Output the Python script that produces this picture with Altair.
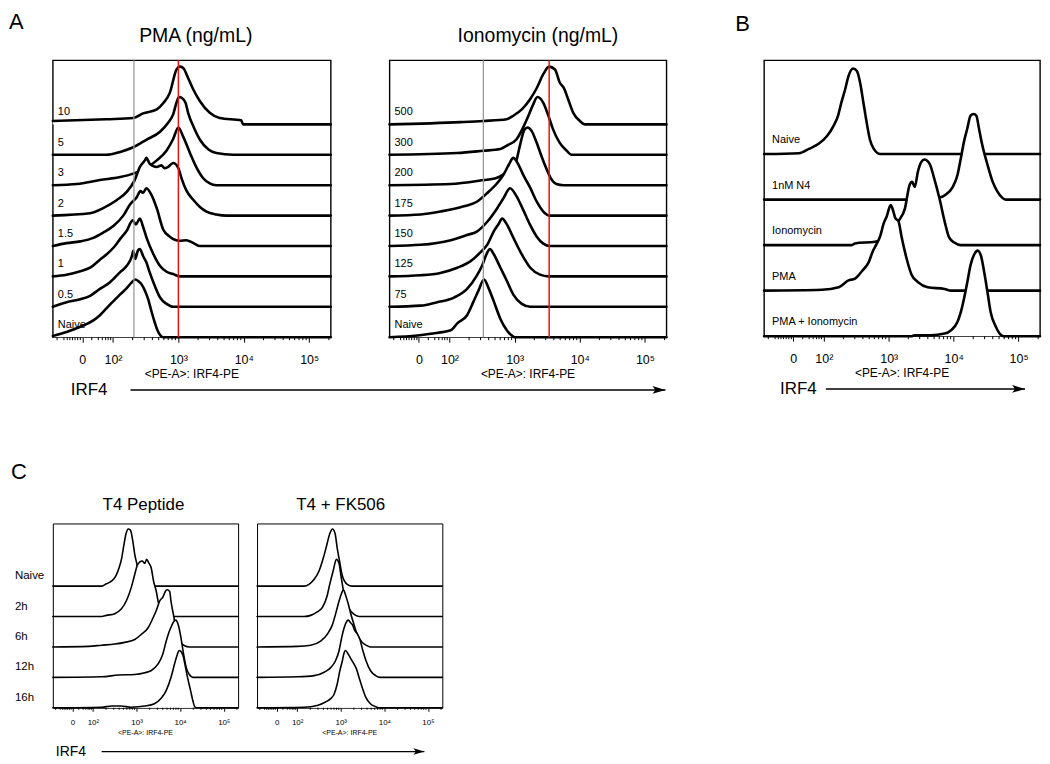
import json
import altair as alt
import pandas as pd

FONT = "Liberation Sans"

# ---- axis (display units: 10^k -> k, zero -> 1.53) ----
X_MIN, X_MAX = 1.08, 5.33
MAJOR_T = [1.53, 2, 3, 4, 5]
MAJOR_LABELS = ["0", "10²", "10³", "10⁴", "10⁵"]
MINOR_T = [1.145, 1.25, 1.30, 1.34, 1.38, 1.42, 1.46, 1.50,
           1.675, 1.775, 1.836, 1.888, 1.927, 1.965,
           2.301, 2.477, 2.602, 2.699, 2.778, 2.845, 2.903, 2.954,
           3.301, 3.477, 3.602, 3.699, 3.778, 3.845, 3.903, 3.954,
           4.301, 4.477, 4.602, 4.699, 4.778, 4.845, 4.903, 4.954,
           5.301]

# ---- row labels (bottom -> top) ----
PMA_ROWS = ["Naive", "0.5", "1", "1.5", "2", "3", "5", "10"]
IONO_ROWS = ["Naive", "75", "125", "150", "175", "200", "300", "500"]
B_ROWS = ["PMA + Ionomycin", "PMA", "Ionomycin", "1nM N4", "Naive"]
C_ROWS = ["16h", "12h", "6h", "2h", "Naive"]

# ---- gate lines ----
PMA_GRAY, PMA_RED = 2.32, 3.0
IONO_GRAY, IONO_RED = 2.52, 3.53

# ---- histograms: (position, % of max) ----
pma_naive = [(1.08, 2), (1.29, 9), (1.50, 18), (1.70, 29), (1.80, 38), (1.95, 56), (2.11, 74), (2.21, 85), (2.28, 94), (2.34, 100), (2.39, 97), (2.44, 91), (2.49, 80), (2.54, 65), (2.59, 44), (2.64, 25), (2.68, 12), (2.77, 0), (5.33, 0)]
pma_05 = [(1.08, 0), (1.29, 8), (1.50, 13), (1.65, 19), (1.80, 31), (1.95, 42), (2.11, 60), (2.21, 71), (2.29, 88), (2.31, 97), (2.34, 83), (2.38, 97), (2.41, 100), (2.46, 88), (2.51, 77), (2.56, 60), (2.64, 36), (2.72, 16), (2.82, 5), (2.92, 0), (5.33, 0)]
pma_1 = [(1.08, 0), (1.29, 3), (1.50, 9), (1.65, 15), (1.80, 29), (1.90, 38), (2.01, 50), (2.11, 65), (2.21, 79), (2.30, 97), (2.35, 90), (2.41, 100), (2.46, 86), (2.51, 68), (2.62, 38), (2.72, 18), (2.82, 8), (2.92, 4), (3.02, 0), (5.33, 0)]
pma_15 = [(1.08, 0), (1.29, 5), (1.50, 8), (1.70, 14), (1.85, 23), (2.01, 35), (2.16, 53), (2.26, 72), (2.36, 84), (2.42, 95), (2.46, 92), (2.51, 100), (2.59, 88), (2.67, 65), (2.77, 28), (2.87, 16), (3.02, 9), (3.12, 10), (3.23, 5), (3.33, 0), (5.33, 0)]
pma_2 = [(1.08, 0), (1.65, 4), (1.85, 13), (2.06, 27), (2.21, 41), (2.33, 61), (2.41, 84), (2.49, 96), (2.51, 100), (2.56, 90), (2.67, 84), (2.74, 87), (2.79, 82), (2.84, 84), (2.92, 91), (3.00, 82), (3.05, 64), (3.12, 44), (3.23, 27), (3.33, 15), (3.43, 7), (3.58, 2), (3.74, 0), (5.33, 0)]
pma_3 = [(1.08, 0), (1.45, 2), (1.80, 9), (2.11, 14), (2.31, 20), (2.51, 30), (2.67, 43), (2.82, 60), (2.92, 80), (3.00, 100), (3.07, 85), (3.18, 55), (3.28, 30), (3.38, 12), (3.48, 3), (3.58, 0), (5.33, 0)]
pma_5 = [(1.08, 0), (1.90, 0), (2.11, 5), (2.31, 13), (2.51, 26), (2.72, 40), (2.84, 55), (2.92, 70), (2.97, 90), (3.01, 100), (3.06, 98), (3.11, 90), (3.15, 72), (3.23, 49), (3.33, 26), (3.46, 9), (3.58, 3), (3.84, 0), (5.33, 0)]
pma_10 = [(1.08, 6), (1.90, 9), (2.31, 11), (2.46, 19), (2.67, 26), (2.77, 37), (2.87, 55), (2.97, 95), (3.02, 100), (3.07, 98), (3.15, 80), (3.23, 60), (3.33, 40), (3.48, 20), (3.63, 11), (3.96, 7), (3.99, 0), (5.33, 0)]

iono_naive = [(1.08, 0), (1.51, 3), (1.71, 6), (2.02, 12), (2.12, 24), (2.27, 38), (2.37, 62), (2.45, 82), (2.53, 100), (2.60, 85), (2.68, 62), (2.78, 32), (2.88, 12), (2.98, 1), (3.00, 0), (5.33, 0)]
iono_75 = [(1.08, 0), (1.56, 2), (1.81, 8), (2.07, 16), (2.27, 31), (2.42, 54), (2.50, 71), (2.58, 94), (2.62, 100), (2.68, 91), (2.78, 68), (2.88, 45), (2.98, 21), (3.11, 5), (3.24, 0), (5.33, 0)]
iono_125 = [(1.08, 0), (1.56, 2), (1.86, 6), (2.12, 15), (2.32, 26), (2.47, 41), (2.58, 55), (2.68, 78), (2.75, 90), (2.81, 100), (2.88, 90), (2.98, 67), (3.11, 38), (3.24, 15), (3.39, 3), (3.52, 0), (5.33, 0)]
iono_150 = [(1.08, 0), (1.56, 2), (2.02, 10), (2.27, 19), (2.42, 25), (2.58, 42), (2.73, 65), (2.83, 83), (2.93, 100), (3.03, 86), (3.13, 63), (3.24, 36), (3.34, 16), (3.44, 4), (3.54, 0), (5.33, 0)]
iono_175 = [(1.08, 0), (1.56, 2), (1.86, 7), (2.22, 16), (2.42, 24), (2.58, 39), (2.73, 56), (2.83, 71), (2.91, 88), (2.98, 100), (3.06, 88), (3.13, 71), (3.24, 48), (3.34, 24), (3.44, 7), (3.54, 0), (5.33, 0)]
iono_200 = [(1.08, 0), (2.02, 2), (2.47, 8), (2.73, 13), (2.85, 20), (2.94, 28), (3.02, 40), (3.08, 68), (3.15, 96), (3.20, 100), (3.26, 94), (3.34, 73), (3.41, 51), (3.49, 28), (3.55, 13), (3.64, 2), (3.75, 0), (5.33, 0)]
iono_300 = [(1.08, 0), (2.12, 3), (2.52, 7), (2.78, 10), (2.88, 16), (3.03, 27), (3.13, 47), (3.21, 67), (3.28, 86), (3.35, 100), (3.44, 90), (3.52, 67), (3.59, 44), (3.69, 21), (3.80, 7), (3.87, 0), (5.33, 0)]
iono_500 = [(1.08, 0), (2.17, 4), (2.52, 6), (2.88, 9), (2.98, 15), (3.11, 26), (3.24, 44), (3.34, 63), (3.44, 87), (3.53, 100), (3.62, 95), (3.69, 73), (3.76, 62), (3.82, 44), (3.90, 20), (4.00, 6), (4.08, 0), (5.33, 0)]

b_pma_iono = [(1.08, 0), (3.35, 0), (3.40, 1), (3.65, 1), (3.86, 3), (3.96, 7), (4.06, 17), (4.11, 28), (4.16, 44), (4.21, 63), (4.26, 83), (4.32, 96), (4.37, 100), (4.42, 94), (4.47, 75), (4.52, 52), (4.57, 28), (4.65, 11), (4.72, 2), (4.77, 0), (5.33, 0)]
b_pma = [(1.08, 0), (1.97, 1), (2.23, 4), (2.38, 12), (2.48, 14), (2.59, 23), (2.69, 33), (2.76, 47), (2.81, 54), (2.87, 64), (2.92, 78), (2.97, 87), (3.03, 100), (3.07, 93), (3.10, 85), (3.15, 81), (3.20, 62), (3.27, 39), (3.35, 19), (3.45, 10), (3.60, 4), (3.86, 2), (3.96, 0), (5.33, 0)]
b_iono = [(1.08, 0), (2.43, 0), (2.48, 2), (2.79, 4), (2.99, 10), (3.15, 28), (3.25, 43), (3.32, 70), (3.36, 74), (3.40, 68), (3.45, 86), (3.50, 97), (3.55, 100), (3.63, 95), (3.70, 78), (3.78, 55), (3.86, 28), (3.93, 9), (4.01, 3), (4.11, 0), (5.33, 0)]
b_n4 = [(1.08, 0), (3.35, 0), (3.65, 1), (3.81, 3), (3.88, 6), (3.98, 14), (4.06, 29), (4.11, 48), (4.16, 68), (4.21, 83), (4.26, 98), (4.31, 100), (4.35, 98), (4.39, 83), (4.44, 64), (4.52, 41), (4.60, 21), (4.67, 10), (4.75, 2), (4.80, 0), (5.33, 0)]
b_naive = [(1.08, 0), (1.62, 1), (1.77, 6), (1.92, 12), (2.05, 21), (2.15, 33), (2.22, 45), (2.27, 60), (2.33, 76), (2.38, 91), (2.45, 100), (2.51, 97), (2.56, 83), (2.61, 60), (2.66, 37), (2.71, 17), (2.77, 6), (2.87, 0), (5.33, 0)]

t4_16h = [(1.08, 0), (2.20, 1), (2.43, 3), (2.65, 3), (2.88, 1), (3.19, 3), (3.41, 7), (3.56, 16), (3.68, 30), (3.79, 53), (3.87, 76), (3.93, 92), (3.98, 100), (4.06, 93), (4.11, 76), (4.17, 53), (4.24, 30), (4.29, 13), (4.34, 1), (4.38, 0), (5.33, 0)]
t4_12h = [(1.08, 0), (2.20, 1), (2.58, 4), (2.96, 5), (3.19, 8), (3.34, 12), (3.49, 23), (3.60, 40), (3.68, 63), (3.75, 80), (3.81, 91), (3.85, 97), (3.90, 100), (3.96, 91), (4.02, 69), (4.08, 40), (4.14, 17), (4.21, 5), (4.29, 0), (5.33, 0)]
t4_6h = [(1.08, 0), (1.90, 1), (2.20, 3), (2.50, 5), (2.73, 8), (2.96, 13), (3.11, 22), (3.27, 34), (3.38, 51), (3.46, 65), (3.53, 80), (3.61, 88), (3.66, 97), (3.70, 100), (3.76, 97), (3.79, 80), (3.85, 55), (3.91, 28), (3.99, 10), (4.10, 2), (4.21, 0), (5.33, 0)]
t4_2h = [(1.08, 0), (2.20, 0), (2.31, 2), (2.50, 5), (2.65, 13), (2.77, 28), (2.88, 51), (2.96, 74), (3.01, 88), (3.07, 95), (3.13, 97), (3.19, 93), (3.23, 100), (3.28, 94), (3.34, 84), (3.39, 62), (3.45, 45), (3.50, 25), (3.57, 12), (3.64, 4), (3.72, 0), (5.33, 0)]
t4_naive = [(1.08, 0), (2.20, 0), (2.31, 4), (2.43, 9), (2.52, 17), (2.60, 32), (2.66, 49), (2.71, 72), (2.76, 92), (2.81, 100), (2.86, 98), (2.91, 81), (2.96, 55), (3.01, 38), (3.07, 17), (3.19, 3), (3.30, 0), (5.33, 0)]

fk_16h = [(1.08, 0), (2.16, 1), (2.46, 4), (2.65, 10), (2.77, 16), (2.85, 24), (2.92, 42), (2.98, 65), (3.04, 83), (3.07, 94), (3.11, 100), (3.17, 94), (3.23, 86), (3.30, 77), (3.36, 68), (3.42, 53), (3.49, 36), (3.57, 19), (3.68, 7), (3.80, 2), (3.87, 0), (5.33, 0)]
fk_12h = [(1.08, 0), (2.01, 1), (2.39, 3), (2.62, 9), (2.77, 17), (2.88, 29), (2.96, 46), (3.02, 69), (3.08, 87), (3.14, 98), (3.17, 100), (3.23, 95), (3.27, 92), (3.32, 82), (3.38, 76), (3.44, 66), (3.51, 46), (3.58, 29), (3.68, 12), (3.80, 3), (3.91, 0), (5.33, 0)]
fk_6h = [(1.08, 0), (2.01, 1), (2.31, 3), (2.54, 10), (2.69, 22), (2.81, 39), (2.89, 60), (2.96, 80), (3.02, 94), (3.06, 100), (3.11, 91), (3.17, 76), (3.23, 58), (3.30, 40), (3.38, 22), (3.49, 8), (3.61, 2), (3.68, 0), (5.33, 0)]
fk_2h = [(1.08, 0), (2.16, 0), (2.31, 2), (2.46, 8), (2.58, 16), (2.68, 34), (2.75, 57), (2.83, 81), (2.90, 100), (2.96, 93), (3.01, 69), (3.06, 46), (3.11, 28), (3.19, 14), (3.30, 4), (3.42, 0), (5.33, 0)]
fk_naive = [(1.08, 0), (2.16, 0), (2.27, 3), (2.39, 12), (2.50, 26), (2.60, 49), (2.68, 72), (2.75, 92), (2.81, 100), (2.87, 92), (2.92, 66), (2.97, 45), (3.03, 20), (3.15, 3), (3.26, 0), (5.33, 0)]

ARROW = "M -1 -0.6 L 1 0 L -1 0.6 L -0.55 0 Z"
LABEL_EXPR = "%s[indexof(%s, datum.value)]" % (
    json.dumps(MAJOR_LABELS, ensure_ascii=False), json.dumps(MAJOR_T))


def text_layer(txt, x, y, size, align="center", baseline="middle", font=FONT):
    return alt.Chart(pd.DataFrame({"txt": [txt]})).mark_text(
        align=align, baseline=baseline, fontSize=size, font=font, color="black"
    ).encode(x=alt.value(x), y=alt.value(y), text="txt:N")


def panel(curves, rows, W, H, ytop, peak, lw, frame_w, lab_size, tick_major,
          tick_minor, lab_pad, row_x=5, row_dy=-12, row_size=11,
          markers=(), texts=(), arrow=None):
    xe = alt.X("t:Q", scale=alt.Scale(domain=[X_MIN, X_MAX], nice=False, zero=False),
               axis=alt.Axis(values=MAJOR_T, labelExpr=LABEL_EXPR, domain=False, grid=False,
                             tickSize=tick_major, tickColor="black", tickWidth=1,
                             labelFont=FONT, labelFontSize=lab_size, labelColor="black",
                             labelPadding=lab_pad, labelOverlap=False, labelFlush=False,
                             title=None))
    ys = alt.Scale(domain=[0, ytop], nice=False, zero=False)
    layers = []
    n = len(curves)
    for i in range(n - 1, -1, -1):
        df = pd.DataFrame(curves[i], columns=["t", "pct"])
        df["base"] = float(i)
        df["y"] = i + df["pct"] / 100.0 * peak
        c = alt.Chart(df)
        layers.append(c.mark_area(color="white", opacity=1, interpolate="monotone").encode(
            x=xe, y=alt.Y("y:Q", scale=ys, axis=None), y2="base:Q"))
        layers.append(c.mark_line(color="black", strokeWidth=lw, interpolate="monotone",
                                  strokeJoin="round", strokeCap="round").encode(
            x=xe, y=alt.Y("y:Q", scale=ys, axis=None)))
    for tval, col, w in markers:
        layers.append(alt.Chart(pd.DataFrame({"t": [tval]})).mark_rule(
            color=col, strokeWidth=w).encode(x=xe))
    layers.append(alt.Chart(pd.DataFrame({"t": MINOR_T})).mark_rule(
        color="black", strokeWidth=1).encode(x=xe, y=alt.value(H), y2=alt.value(H + tick_minor)))
    if rows:
        ldf = pd.DataFrame({"row": list(range(len(rows))), "label": rows})
        layers.append(alt.Chart(ldf).mark_text(
            align="left", baseline="middle", dy=row_dy, font=FONT, fontSize=row_size,
            color="black").encode(x=alt.value(row_x), y=alt.Y("row:Q", scale=ys, axis=None),
                                  text="label:N"))
    for t in texts:
        layers.append(text_layer(*t))
    if arrow:
        x1, x2, y, hs = arrow
        layers.append(alt.Chart(pd.DataFrame({"a": [0]})).mark_rule(
            color="black", strokeWidth=1.3).encode(x=alt.value(x1), x2=alt.value(x2), y=alt.value(y)))
        layers.append(alt.Chart(pd.DataFrame({"a": [0]})).mark_point(
            shape=ARROW, filled=True, size=hs * hs, color="black", opacity=1, strokeWidth=0
        ).encode(x=alt.value(x2 - hs / 2), y=alt.value(y)))
    return alt.layer(*layers).properties(
        width=W, height=H, view=alt.ViewBackground(stroke="black", strokeWidth=frame_w))


WA, HA = 279, 278
A_left = panel([pma_naive, pma_05, pma_1, pma_15, pma_2, pma_3, pma_5, pma_10], PMA_ROWS,
               WA, HA, 9.11, 1.9, 2.6, 1.4, 12.5, 5, 3, 11,
               markers=[(PMA_GRAY, "#9a9a9a", 1.3), (PMA_RED, "#ee1111", 1.5)],
               texts=[("A", -44, -48.5, 22, "left", "top"),
                      ("PMA (ng/mL)", WA / 2 + 4, -24, 19.5),
                      ("<PE-A>: IRF4-PE", WA / 2, HA + 37, 12),
                      ("IRF4", 18, 331, 17, "left")],
               arrow=(78, 615, 331, 13))

A_right = panel([iono_naive, iono_75, iono_125, iono_150, iono_175, iono_200, iono_300, iono_500],
                IONO_ROWS, 278, HA, 9.11, 1.9, 2.6, 1.4, 12.5, 5, 3, 11,
                markers=[(IONO_GRAY, "#9a9a9a", 1.3), (IONO_RED, "#ee1111", 1.5)],
                texts=[("Ionomycin (ng/mL)", 278 / 2 + 10, -24, 19.5),
                       ("<PE-A>: IRF4-PE", 278 / 2, HA + 37, 12)])

B = panel([b_pma_iono, b_pma, b_iono, b_n4, b_naive], B_ROWS, 277, 277, 6.06, 1.88, 2.6, 1.4,
          12.5, 5, 3, 11, row_x=8, row_dy=-14,
          texts=[("B", -29, -46.8, 22, "left", "top"),
                 ("<PE-A>: IRF4-PE", 277 / 2, 277 + 37, 12),
                 ("IRF4", 16, 330, 17, "left")],
          arrow=(62, 262, 330, 13))

WC, HC = 186, 185
C_left = panel([t4_16h, t4_12h, t4_6h, t4_2h, t4_naive], C_ROWS, WC, HC, 6.06, 1.88, 1.6, 1.0,
               8, 3.5, 2, 7, row_x=-38, row_dy=-10, row_size=11.5,
               texts=[("C", -42, -61.5, 22, "left", "top"),
                      ("T4 Peptide", WC / 2 - 2, -19, 17),
                      ("<PE-A>: IRF4-PE", WC / 2, HC + 25, 7),
                      ("IRF4", 3, 229, 14, "left")],
               arrow=(49, 373, 229, 11))

C_right = panel([fk_16h, fk_12h, fk_6h, fk_2h, fk_naive], None, WC, HC, 6.06, 1.88, 1.6, 1.0,
                8, 3.5, 2, 7,
                texts=[("T4 + FK506", WC / 2 - 9, -19, 17),
                       ("<PE-A>: IRF4-PE", WC / 2, HC + 25, 7)])

# flush bounds: nested concat groups count as zero-size, so the outer spacing is the offset
row1 = alt.hconcat(alt.hconcat(A_left, A_right, spacing=59, bounds="flush"), B,
                   spacing=714, bounds="flush")
row2 = alt.hconcat(C_left, C_right, spacing=19, bounds="flush")
chart = alt.vconcat(row1, row2, spacing=465, bounds="flush").properties(
    padding=0).configure(font=FONT)

chart.save("out.html", embed_options={"renderer": "svg", "actions": False})
